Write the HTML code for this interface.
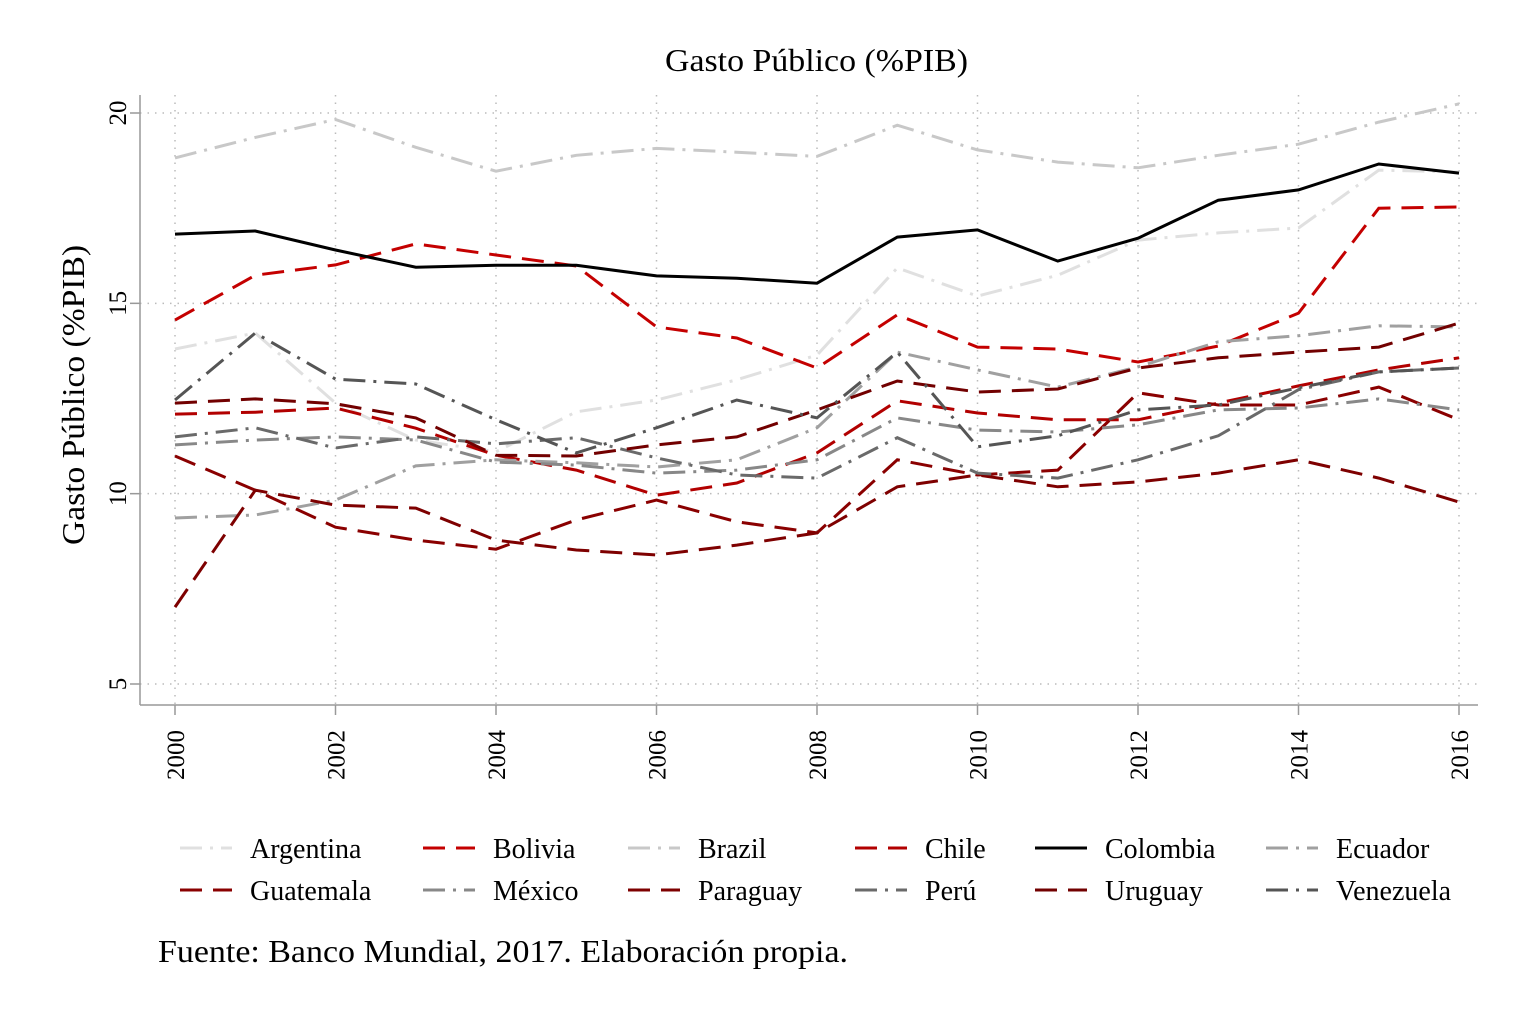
<!DOCTYPE html>
<html><head><meta charset="utf-8"><style>
html,body{margin:0;padding:0;background:#fff;}
svg{display:block;font-family:"Liberation Serif",serif;}
</style></head><body>
<svg id="chart" width="1518" height="1012" viewBox="0 0 1518 1012">
<text x="665" y="71" textLength="303" lengthAdjust="spacingAndGlyphs" font-size="32">Gasto Público (%PIB)</text>
<text transform="translate(84,545) rotate(-90)" textLength="300" lengthAdjust="spacingAndGlyphs" font-size="32">Gasto Público (%PIB)</text>
<g id="grid"></g>
<g id="axes"></g>
<g id="series"></g>
<g id="legend"></g>
<text x="158" y="962" textLength="690" lengthAdjust="spacingAndGlyphs" font-size="32">Fuente: Banco Mundial, 2017. Elaboración propia.</text>
</svg>
<script>
const years = [2000,2001,2002,2003,2004,2005,2006,2007,2008,2009,2010,2011,2012,2013,2014,2015,2016];
const xTicks = [2000,2002,2004,2006,2008,2010,2012,2014,2016];
const yTicks = [5,10,15,20];
const seriesNames = ["Argentina","Bolivia","Brazil","Chile","Colombia","Ecuador","Guatemala","México","Paraguay","Perú","Uruguay","Venezuela"];
const argentina = [13.80,14.22,12.38,11.41,11.10,12.15,12.46,12.99,13.64,15.93,15.19,15.74,16.66,16.85,16.98,18.50,18.45];
const bolivia = [14.56,15.74,16.01,16.56,16.27,15.98,14.38,14.09,13.30,14.70,13.85,13.80,13.46,13.88,14.74,17.50,17.53];
const brazil = [18.82,19.36,19.83,19.10,18.47,18.89,19.07,18.97,18.86,19.68,19.03,18.71,18.56,18.89,19.18,19.76,20.24];
const chile = [12.09,12.14,12.25,11.72,11.01,10.62,9.96,10.28,11.07,12.44,12.12,11.94,11.94,12.38,12.83,13.25,13.57];
const colombia = [16.82,16.90,16.40,15.95,16.00,16.00,15.72,15.66,15.53,16.74,16.93,16.11,16.71,17.71,17.98,18.66,18.42];
const ecuador = [9.36,9.44,9.83,10.73,10.89,10.81,10.70,10.89,11.73,13.72,13.25,12.80,13.33,13.99,14.15,14.41,14.38];
const guatemala = [10.99,10.09,9.12,8.78,8.54,9.31,9.83,9.26,8.97,10.89,10.49,10.62,12.65,12.33,12.33,12.80,11.94];
const mexico = [11.28,11.41,11.49,11.41,10.83,10.75,10.54,10.62,10.89,11.99,11.67,11.62,11.81,12.20,12.25,12.49,12.20];
const paraguay = [7.02,10.09,9.70,9.62,8.78,8.52,8.39,8.65,8.97,10.18,10.49,10.18,10.31,10.54,10.89,10.41,9.78];
const peru = [11.49,11.73,11.20,11.49,11.31,11.47,10.94,10.49,10.41,11.47,10.54,10.41,10.89,11.52,12.73,13.20,13.30];
const uruguay = [12.38,12.49,12.36,11.99,11.01,10.99,11.28,11.49,12.20,12.96,12.67,12.75,13.30,13.57,13.72,13.85,14.48];
const venezuela = [12.46,14.22,13.01,12.88,11.94,11.07,11.73,12.46,11.99,13.72,11.23,11.52,12.20,12.33,12.78,13.20,13.30];

const NS="http://www.w3.org/2000/svg";
const X0=175,X1=1459,Y20=113,Y5=684;
function xs(y){return X0+(y-2000)*(X1-X0)/16;}
function ys(v){return Y5-(v-5)*(Y5-Y20)/15;}
function mk(tag,attrs,parent){const e=document.createElementNS(NS,tag);for(const k in attrs)e.setAttribute(k,attrs[k]);parent.appendChild(e);return e;}

const grid=document.getElementById('grid'), axes=document.getElementById('axes');
yTicks.forEach(t=>{
  const g=mk('line',{x1:140,x2:1478,y1:ys(t),y2:ys(t),stroke:'#bbb','stroke-width':1.5,'stroke-dasharray':'1.5 6'},grid);
  
  
  const tk=mk('line',{x1:130,x2:140,y1:ys(t),y2:ys(t),stroke:'#999','stroke-width':1.5},axes);
  
  
  const lb=mk('text',{transform:`translate(126,${ys(t)}) rotate(-90)`,'text-anchor':'middle','font-size':25},axes);
  lb.textContent=t;
  
  
});
xTicks.forEach(t=>{
  const g=mk('line',{x1:xs(t),x2:xs(t),y1:95,y2:705,stroke:'#bbb','stroke-width':1.5,'stroke-dasharray':'1.5 6'},grid);
  
  
  const tk=mk('line',{x1:xs(t),x2:xs(t),y1:705,y2:715,stroke:'#999','stroke-width':1.5},axes);
  
  
  const lb=mk('text',{transform:`translate(${xs(t)+9},755) rotate(-90)`,'text-anchor':'middle','font-size':25},axes);
  lb.textContent=t;
  
  
});
const ax1=mk('line',{x1:140,x2:140,y1:95,y2:705,stroke:'#999','stroke-width':1.5},axes);


const ax2=mk('line',{x1:140,x2:1478,y1:705,y2:705,stroke:'#999','stroke-width':1.5},axes);



const DASH='22 11', DOT='22 8 3 8';
const styles=[
 ['#e0e0e0',DOT],['#c40000',DASH],['#c8c8c8',DOT],['#b20000',DASH],['#000',''],['#a0a0a0',DOT],
 ['#8a0000',DASH],['#888',DOT],['#7e0000',DASH],['#6a6a6a',DOT],['#720000',DASH],['#555',DOT]];
const data=[argentina,bolivia,brazil,chile,colombia,ecuador,guatemala,mexico,paraguay,peru,uruguay,venezuela];
const sg=document.getElementById('series');
data.forEach((d,i)=>{
  const pts=d.map((v,j)=>xs(years[j]).toFixed(1)+','+ys(v).toFixed(1)).join(' ');
  const p=mk('polyline',{points:pts,fill:'none',stroke:styles[i][0],'stroke-width':3,'stroke-dasharray':styles[i][1]},sg);
  
  
});
const lg=document.getElementById('legend');
const colX=[180,423,628,855,1035,1266];
seriesNames.forEach((n,i)=>{
  const c=i%6,r=Math.floor(i/6);
  const y=848+r*42;
  const g=mk('g',{},lg);
  
  
  mk('line',{x1:colX[c],x2:colX[c]+52,y1:y,y2:y,stroke:styles[i][0],'stroke-width':3,'stroke-dasharray':styles[i][1]},g);
  const t=mk('text',{x:colX[c]+70,y:y+10,'font-size':28},g);
  t.textContent=n;
});
</script>
</body></html>
